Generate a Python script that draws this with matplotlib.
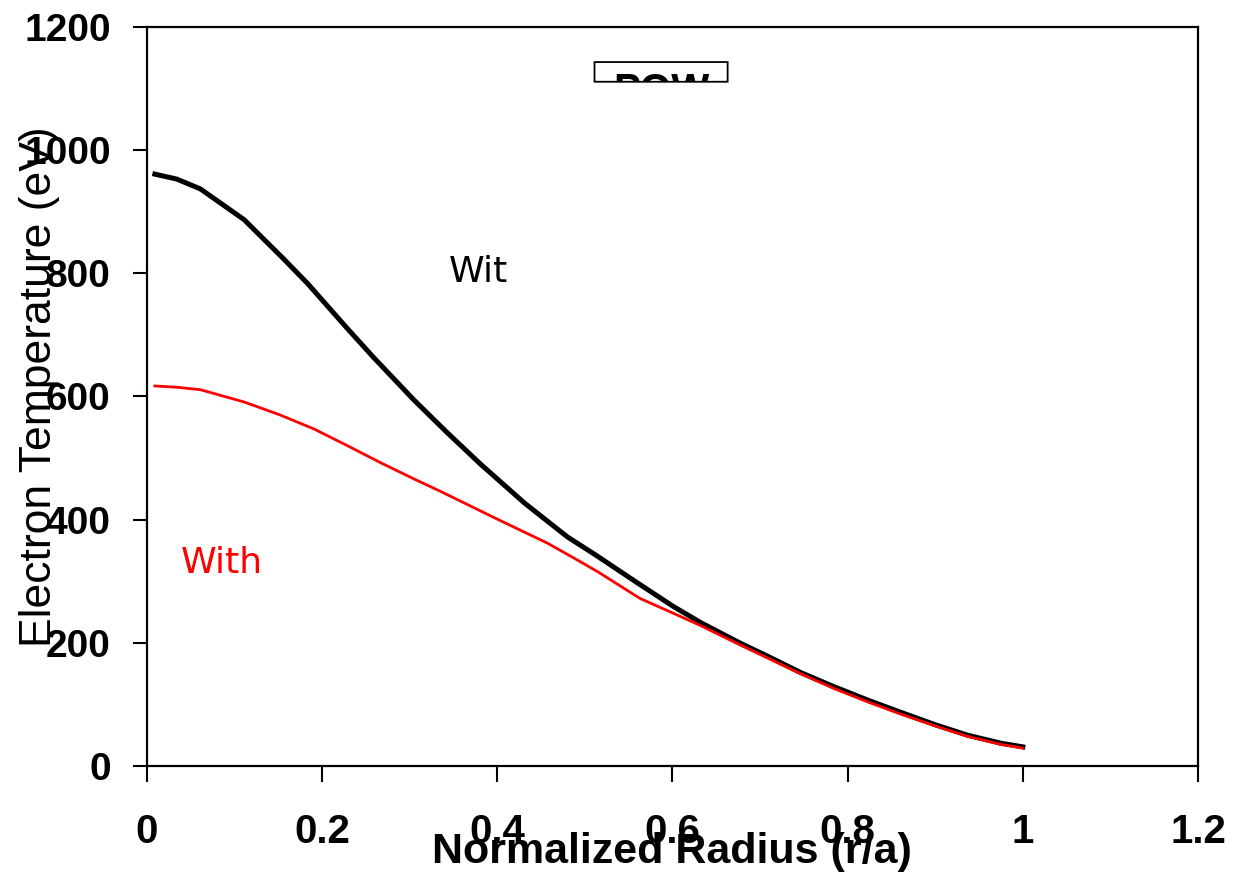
import matplotlib
matplotlib.use('Agg')
from matplotlib import pyplot as plt
from matplotlib.patches import FancyBboxPatch, Rectangle

# radial profiles of electron temperature (eV)
r_without = [0.009, 0.034, 0.061, 0.111, 0.157, 0.183, 0.229, 0.259, 0.305,
             0.343, 0.381, 0.431, 0.48, 0.514, 0.555, 0.601, 0.632, 0.678,
             0.709, 0.746, 0.784, 0.823, 0.861, 0.9, 0.937, 0.975, 1.0]
te_without = [961, 953, 937, 887, 822, 784, 710, 663, 594,
              541, 490, 427, 372, 341, 302, 259, 233, 199,
              178, 152, 129, 107, 87, 67, 50, 37, 31]

r_with = [0.009, 0.034, 0.061, 0.111, 0.152, 0.191, 0.229, 0.266, 0.305,
          0.335, 0.381, 0.407, 0.457, 0.487, 0.514, 0.563, 0.601, 0.632,
          0.678, 0.709, 0.746, 0.784, 0.823, 0.861, 0.9, 0.937, 0.975, 1.0]
te_with = [617, 615, 611, 591, 570, 547, 520, 493, 466,
           446, 414, 396, 362, 338, 316, 272, 248, 228,
           196, 175, 150, 126, 104, 84, 65, 48, 35, 29]

xticks = [0, 0.2, 0.4, 0.6, 0.8, 1, 1.2]
xtick_labels = ['0', '0.2', '0.4', '0.6', '0.8', '1', '1.2']
yticks = [0, 200, 400, 600, 800, 1000, 1200]

plt.rcParams['font.family'] = ['Liberation Sans', 'DejaVu Sans']

fig = plt.figure(figsize=(12.35, 8.75), dpi=100)
ax = fig.add_axes([0.119, 0.1246, 0.851, 0.8446])

ax.plot(r_without, te_without, c='black', linewidth=3.6)
ax.plot(r_with, te_with, c='red', linewidth=2.0)

ax.set_xlim(0, 1.2)
ax.set_ylim(0, 1200)
ax.set_xticks(xticks)
ax.set_xticklabels(xtick_labels)
ax.set_yticks(yticks)

for side in ['left', 'right', 'top', 'bottom']:
    ax.spines[side].set_linewidth(1.6)

ax.tick_params(axis='x', direction='out', length=11.5, width=1.5, pad=22,
               labelsize=29)
ax.tick_params(axis='y', direction='out', length=10, width=1.5, pad=16,
               labelsize=28)
for lbl in ax.get_xticklabels() + ax.get_yticklabels():
    lbl.set_fontweight('bold')

fig.text(0.544, 0.026, 'Normalized Radius (r/a)', fontsize=31,
         fontweight='bold', ha='center', va='center')
fig.text(0.032, 0.558, 'Electron Temperature (eV)', fontsize=32,
         rotation=90, ha='center', va='center')

ax.text(0.345, 786, 'Wit', fontsize=26, color='black', family='DejaVu Sans',
        va='baseline')
ax.text(0.039, 313, 'With', fontsize=26, color='red', family='DejaVu Sans',
        va='baseline')

# label box; the text inside is cut off at the lower edge of the box
x0, x1, y0, y1 = 0.511, 0.663, 1111, 1143
ax.add_patch(Rectangle((x0, y0), x1 - x0, y1 - y0, facecolor='white',
                       edgecolor='none', zorder=2))
ax.text((x0 + x1) / 2, 1127, 'POW', fontsize=29, fontweight='bold',
        ha='center', va='top', zorder=3)
# blank out the part of the text that hangs below the box
ax.add_patch(Rectangle((x0 - 0.01, 1030), x1 - x0 + 0.02, y0 - 1030,
                       facecolor='white', edgecolor='none', zorder=4))
ax.add_patch(FancyBboxPatch((x0, y0), x1 - x0, y1 - y0,
                            boxstyle='round,pad=0,rounding_size=0.004',
                            mutation_aspect=40, facecolor='none',
                            edgecolor='black', linewidth=1.3, zorder=5))

fig.savefig('out.png', dpi=100)
